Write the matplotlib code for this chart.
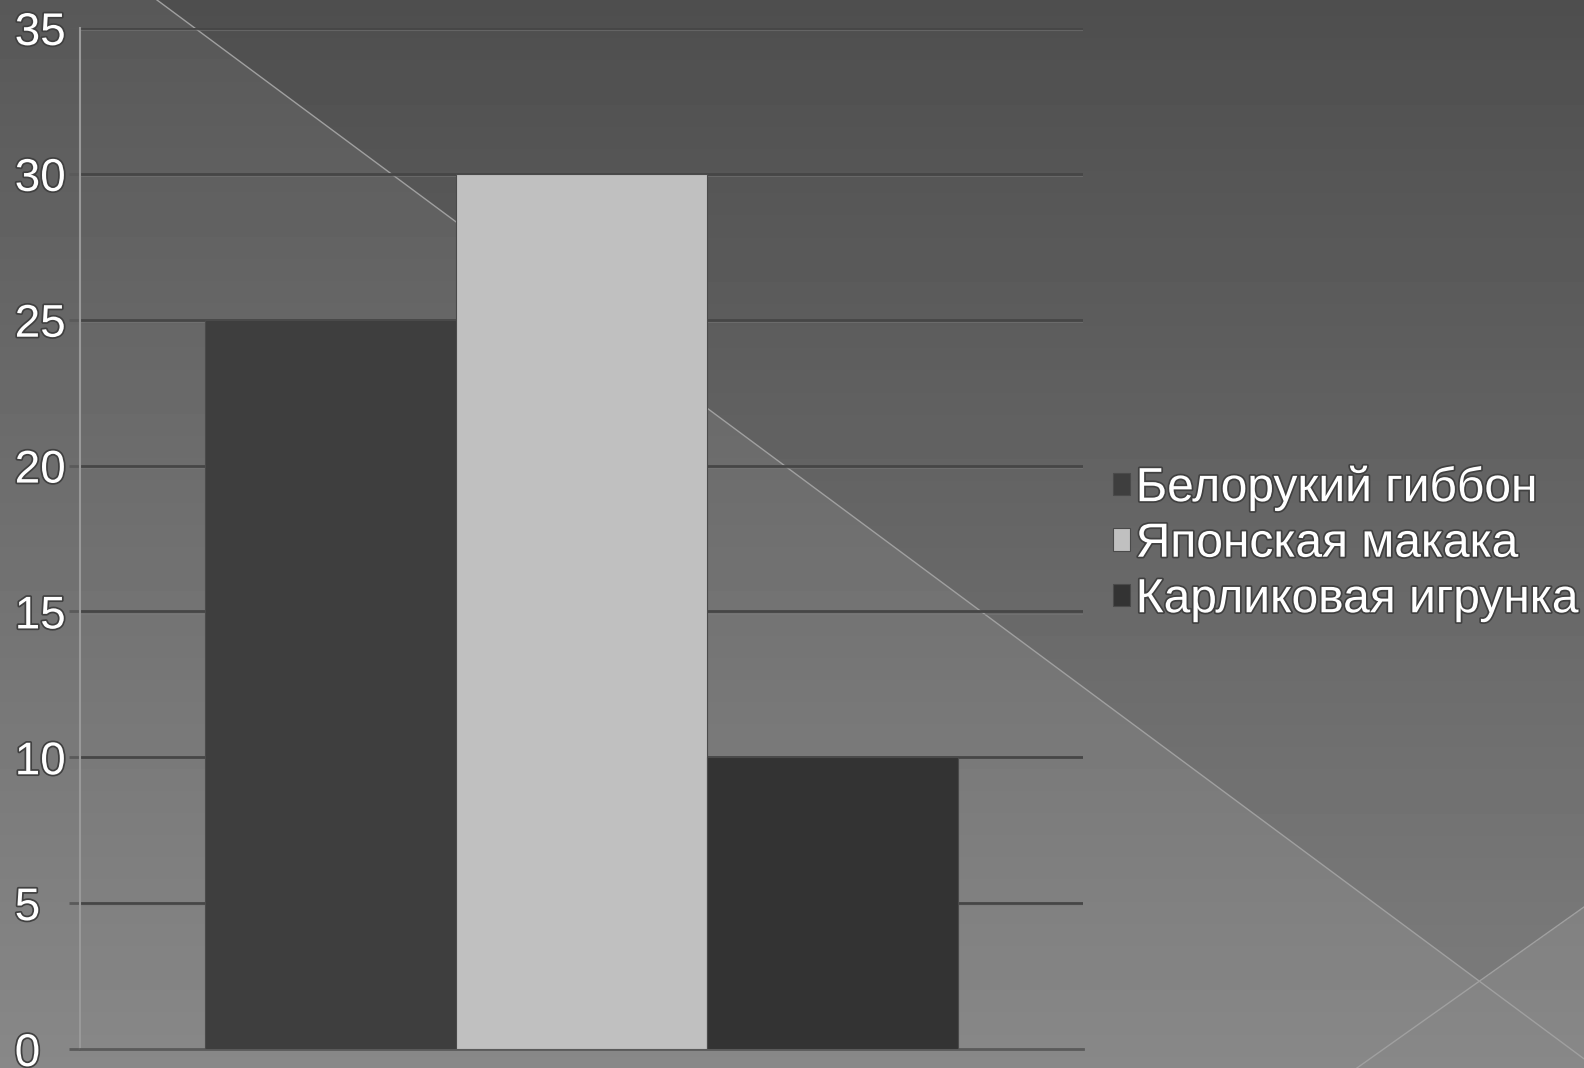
import numpy as np
import matplotlib.pyplot as plt
import matplotlib.patheffects as pe

# Data
series = ["Белорукий гиббон", "Японская макака", "Карликовая игрунка"]
values = [25, 30, 10]
colors = ["#3e3e3e", "#c0c0c0", "#333333"]
yticks = [0, 5, 10, 15, 20, 25, 30, 35]

W, H = 1584, 1068
fig = plt.figure(figsize=(W / 100, H / 100), dpi=100)
plt.rcParams['font.family'] = ['Liberation Sans', 'DejaVu Sans']

# Background: vertical gradient with a darker diagonal band
bg = fig.add_axes([0, 0, 1, 1])
yy, xx = np.mgrid[0:H, 0:W]
shade = 0x58 + (0x88 - 0x58) * yy / H
above1 = yy < 0.742 * (xx - 157)
above2 = yy < 907 + 0.709 * (W - xx)
shade = shade - 10 * (above1 & above2)
bg.imshow(shade, cmap="gray", vmin=0, vmax=255, extent=(0, W, H, 0), aspect="auto")
bg.plot([157, 157 + H / 0.742], [0, H], color="#a0a0a0", lw=1)
bg.plot([W, W - (H - 907) / 0.709], [907, H], color="#a0a0a0", lw=1)
bg.set_xlim(0, W)
bg.set_ylim(H, 0)
bg.axis("off")

# Plot area
ax = fig.add_axes([80 / W, 1 - 1049 / H, (1083 - 80) / W, (1049 - 28) / H])
ax.patch.set_alpha(0)
x = np.arange(len(values)) - 1
bars = ax.bar(x, values, width=1.0, color=colors, edgecolor="#4a4a4a", linewidth=0.8,
              label=series, zorder=3)
ax.set_xlim(-2, 2)
ax.set_ylim(0, 35)
ax.set_yticks(yticks)
ax.set_xticks([])
for t in yticks[1:]:
    ax.axhline(t, color="#464646", lw=2.0, zorder=1)
    ax.axhline(t - 0.08, color="#7a7a7a", lw=0.8, alpha=0.5, zorder=1)
for s in ["top", "right"]:
    ax.spines[s].set_visible(False)
ax.spines["left"].set_color("#999999")
ax.spines["left"].set_linewidth(1.5)
ax.spines["bottom"].set_color("#5a5a5a")
ax.spines["bottom"].set_linewidth(2)
# labels are left-aligned, starting ~15px from the figure edge
ax.tick_params(axis="y", length=8, width=2, color="#5a5a5a", pad=39,
               labelsize=33, labelcolor="white")
for lbl in ax.get_yticklabels():
    lbl.set_horizontalalignment("left")
    lbl.set_path_effects([pe.withStroke(linewidth=2.5, foreground="#404040")])

leg = ax.legend(handles=bars, labels=series, loc="center left",
                bbox_to_anchor=(1.011, 0.495), frameon=False, fontsize=34.5,
                handlelength=0.35, handleheight=0.35, handletextpad=0.12,
                labelspacing=0.22, borderaxespad=0)
for txt in leg.get_texts():
    txt.set_color("white")
    txt.set_path_effects([pe.withStroke(linewidth=2.5, foreground="#404040")])

fig.savefig("out.png", dpi=100)
